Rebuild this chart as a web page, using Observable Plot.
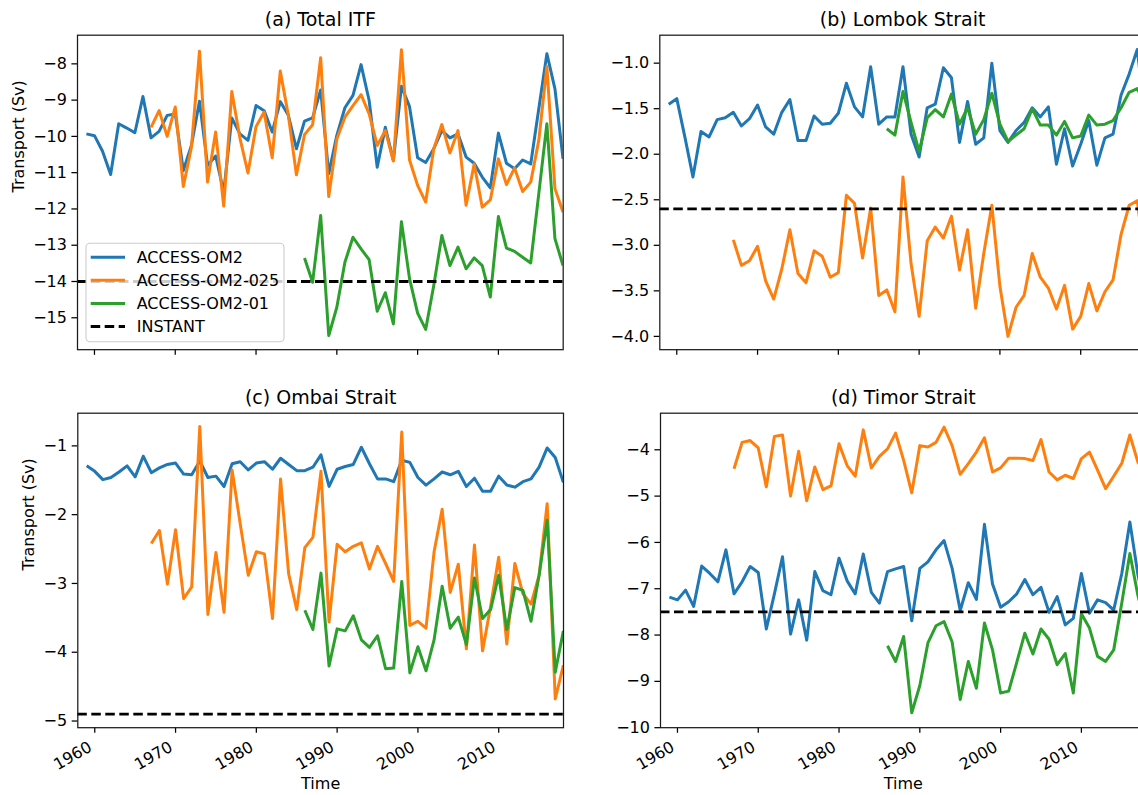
<!DOCTYPE html>
<html>
<head>
<meta charset="utf-8">
<script src="https://cdn.jsdelivr.net/npm/d3@7"></script>
<script src="https://cdn.jsdelivr.net/npm/@observablehq/plot@0.6"></script>
<style>
  html, body { margin: 0; padding: 0; background: #fff; overflow: hidden; }
  #fig { position: relative; width: 1138px; height: 795px; overflow: hidden; background: #fff;
         font-family: "DejaVu Sans", sans-serif; }
  #fig svg { position: absolute; overflow: visible; }
</style>
</head>
<body>
<div id="fig"></div>
<script>
// Annual-mean Indonesian Throughflow transports (Sv) for three model resolutions,
// with the INSTANT observational estimate as a reference line.

const seriesNames = ["ACCESS-OM2", "ACCESS-OM2-025", "ACCESS-OM2-01", "INSTANT"];
const seriesColors = ["#1f77b4", "#ff7f0e", "#2ca02c", "#000000"];
const startOM2 = 1959;   // first year of ACCESS-OM2 (1°)
const start025 = 1967;   // first year of ACCESS-OM2-025
const start01 = 1986;    // first year of ACCESS-OM2-01
const xTickYears = [1960, 1970, 1980, 1990, 2000, 2010];

// (a) Total ITF
const itfOM2 = [
  -9.93, -9.98,
  -10.41, -11.05, -9.65, -9.77, -9.90, -8.90, -10.04, -9.86, -9.42, -9.38,
  -10.94, -10.25, -9.03, -10.80, -10.54, -11.54, -9.49, -9.93, -10.11, -9.15,
  -9.29, -9.88, -9.04, -9.42, -10.34, -9.58, -9.49, -8.72, -11.03, -9.97,
  -9.21, -8.87, -8.02, -9.01, -10.85, -9.75, -10.66, -8.62, -9.18, -10.59,
  -10.72, -10.34, -9.84, -10.04, -9.93, -10.57, -10.74, -11.12, -11.42, -9.91,
  -10.74, -10.89, -10.65, -10.76, -9.24, -7.72, -8.69, -10.62
];
const itf025 = [
  -9.75, -9.29, -10.00, -9.19,
  -11.38, -10.30, -7.65, -11.26, -9.88, -11.92, -8.76, -10.04, -11.01, -9.73,
  -9.33, -10.59, -8.20, -9.42, -11.06, -9.95, -9.68, -7.83, -11.66, -10.07,
  -9.47, -9.15, -8.85, -9.38, -10.25, -9.84, -10.68, -7.61, -10.65, -11.35,
  -11.81, -10.34, -9.67, -10.46, -9.84, -11.90, -10.76, -11.95, -11.75, -10.62,
  -11.33, -10.87, -11.52, -11.26, -10.11, -8.07, -11.44, -12.09
];
const itf01 = [
  -13.35, -14.02, -12.18, -15.49, -14.71,
  -13.47, -12.78, -13.10, -13.40, -14.82, -14.31, -15.17, -12.35, -13.92, -14.87,
  -15.32, -14.11, -12.73, -13.56, -13.05, -13.65, -13.35, -13.56, -14.43, -12.21,
  -13.08, -13.17, -13.33, -13.49, -11.58, -9.65, -12.82, -13.56
];

// (b) Lombok Strait
const lombokOM2 = [
  -1.45, -1.39,
  -1.81, -2.25, -1.75, -1.81, -1.62, -1.60, -1.54, -1.69, -1.61, -1.46,
  -1.70, -1.78, -1.54, -1.40, -1.85, -1.85, -1.58, -1.67, -1.66, -1.55,
  -1.22, -1.48, -1.59, -1.04, -1.67, -1.59, -1.59, -1.04, -1.78, -2.03,
  -1.49, -1.45, -1.05, -1.16, -1.87, -1.42, -1.89, -1.82, -1.00, -1.74,
  -1.87, -1.74, -1.65, -1.49, -1.59, -1.48, -2.11, -1.72, -2.13, -1.89,
  -1.63, -2.12, -1.82, -1.78, -1.35, -1.12, -0.85, -1.60
];
const lombok025 = [
  -2.94, -3.22, -3.17, -3.01,
  -3.39, -3.59, -3.26, -2.83, -3.31, -3.41, -3.06, -3.12, -3.35, -3.30,
  -2.45, -2.54, -3.14, -2.59, -3.55, -3.49, -3.73, -2.25, -3.20, -3.78,
  -2.95, -2.80, -2.92, -2.68, -3.27, -2.83, -3.69, -3.09, -2.56, -3.45,
  -4.00, -3.68, -3.55, -3.09, -3.35, -3.47, -3.70, -3.44, -3.92, -3.78,
  -3.42, -3.72, -3.51, -3.38, -2.88, -2.56, -2.51, -3.20
];
const lombok01 = [
  -1.72, -1.79, -1.31, -1.65, -1.97,
  -1.60, -1.51, -1.59, -1.34, -1.67, -1.49, -1.78, -1.62, -1.33, -1.67,
  -1.86, -1.79, -1.72, -1.50, -1.68, -1.68, -1.79, -1.64, -1.82, -1.80,
  -1.57, -1.68, -1.67, -1.63, -1.49, -1.32, -1.28, -1.45
];

// (c) Ombai Strait
const ombaiOM2 = [
  -1.29, -1.37,
  -1.49, -1.46, -1.38, -1.29, -1.45, -1.15, -1.39, -1.32, -1.27, -1.25,
  -1.41, -1.42, -1.22, -1.46, -1.44, -1.59, -1.26, -1.23, -1.35, -1.25,
  -1.23, -1.34, -1.18, -1.27, -1.36, -1.36, -1.31, -1.13, -1.59, -1.34,
  -1.30, -1.27, -1.02, -1.26, -1.48, -1.48, -1.52, -1.21, -1.24, -1.46,
  -1.57, -1.48, -1.38, -1.42, -1.37, -1.59, -1.47, -1.66, -1.66, -1.44,
  -1.57, -1.60, -1.52, -1.48, -1.31, -1.03, -1.17, -1.53
];
const ombai025 = [
  -2.42, -2.23, -3.01, -2.22,
  -3.22, -3.05, -0.72, -3.45, -2.55, -3.42, -1.35, -2.13, -2.88, -2.54,
  -2.57, -3.51, -1.48, -2.86, -3.38, -2.48, -2.33, -1.37, -3.56, -2.43,
  -2.54, -2.46, -2.41, -2.79, -2.46, -2.71, -2.97, -0.80, -3.61, -3.55,
  -3.65, -2.54, -1.92, -3.13, -2.72, -3.95, -2.44, -3.98, -3.33, -2.62,
  -3.88, -2.71, -3.15, -3.30, -2.88, -1.84, -4.68, -4.19
];
const ombai01 = [
  -3.39, -3.67, -2.85, -4.20, -3.66,
  -3.69, -3.47, -3.82, -3.93, -3.76, -4.24, -4.23, -2.97, -4.30, -3.92,
  -4.27, -3.82, -3.04, -3.65, -3.49, -3.89, -2.92, -3.51, -3.38, -2.88,
  -3.67, -3.06, -3.10, -3.55, -2.88, -2.08, -4.29, -3.69
];

// (d) Timor Strait
const timorOM2 = [
  -7.18, -7.24,
  -7.03, -7.38, -6.51, -6.67, -6.85, -6.16, -7.11, -6.85, -6.52, -6.65,
  -7.87, -7.11, -6.31, -7.98, -7.24, -8.11, -6.63, -7.04, -7.13, -6.34,
  -6.83, -7.11, -6.25, -7.08, -7.31, -6.63, -6.57, -6.52, -7.69, -6.56,
  -6.42, -6.16, -5.96, -6.56, -7.47, -6.87, -7.23, -5.61, -6.90, -7.40,
  -7.28, -7.11, -6.80, -7.13, -6.97, -7.51, -7.17, -7.78, -7.64, -6.67,
  -7.53, -7.24, -7.30, -7.46, -6.67, -5.56, -6.70, -7.50
];
const timor025 = [
  -4.41, -3.84, -3.80, -3.96,
  -4.80, -3.71, -3.68, -5.00, -4.03, -5.10, -4.37, -4.86, -4.78, -3.87,
  -4.34, -4.57, -3.57, -4.39, -4.14, -3.98, -3.64, -4.23, -4.93, -3.91,
  -3.94, -3.84, -3.51, -3.91, -4.53, -4.30, -4.05, -3.74, -4.48, -4.39,
  -4.18, -4.18, -4.19, -4.23, -3.78, -4.48, -4.65, -4.55, -4.62, -4.19,
  -4.05, -4.44, -4.84, -4.57, -4.29, -3.68, -4.27, -4.50
];
const timor01 = [
  -8.23, -8.57, -8.03, -9.68, -9.09,
  -8.17, -7.80, -7.71, -8.15, -9.39, -8.57, -9.15, -7.74, -8.32, -9.25,
  -9.21, -8.59, -7.96, -8.41, -7.87, -8.09, -8.64, -8.40, -9.25, -7.54,
  -7.85, -8.46, -8.57, -8.32, -7.31, -6.24, -7.15, -7.80
];

// INSTANT mean transports (Sv): Total ITF, Lombok, Ombai, Timor
const instantMeans = [-14.0, -2.6, -4.9, -7.5];

const panelTitles = ["(a) Total ITF", "(b) Lombok Strait", "(c) Ombai Strait", "(d) Timor Strait"];
const yTickSets = [
  [-15, -14, -13, -12, -11, -10, -9, -8],
  [-4.0, -3.5, -3.0, -2.5, -2.0, -1.5, -1.0],
  [-5, -4, -3, -2, -1],
  [-10, -9, -8, -7, -6, -5, -4]
];
const yDomains = [[-15.88, -7.21], [-4.146, -0.693], [-5.097, -0.525], [-10.0, -3.21]];
const xLabel = "Time";
const yLabel = "Transport (Sv)";

// ---------------------------------------------------------------------------

const FONT = "DejaVu Sans, sans-serif";
const FS = 16;                      // tick, legend and axis-label size
const TITLE_FS = 19;
const LINE_W = 3.0;
const DASH = "9.5,4.5";
const FRAME_W = 485.7, FRAME_H = 314.5;
const fig = document.getElementById("fig");
const fmtInt = d3.format("");       // d3 formats negatives with a true minus sign
const fmt1 = d3.format(".1f");

function toRows(start, values) {
  return values.map((v, i) => ({year: start + i, value: v}));
}

function panel(opts) {
  const {title, om2, om025, om01, instant, yDomain, yTicks, yFormat,
         bottomRow, showYLabel, yLabelDx, left, top,
         marginLeft, marginTop, marginBottom} = opts;
  const marginRight = 10;
  const lineStyle = {x: "year", y: "value", strokeWidth: LINE_W, clip: true,
                     strokeLinejoin: "round", strokeLinecap: "butt"};
  const marks = [
    Plot.line(toRows(startOM2, om2), {...lineStyle, stroke: seriesColors[0]}),
    Plot.line(toRows(start025, om025), {...lineStyle, stroke: seriesColors[1]}),
    Plot.line(toRows(start01, om01), {...lineStyle, stroke: seriesColors[2]}),
    Plot.ruleY([instant], {stroke: seriesColors[3], strokeWidth: 2.8, strokeDasharray: DASH}),
    Plot.axisY({ticks: yTicks, tickFormat: yFormat, tickSize: 5.6, tickPadding: 5.0,
                strokeWidth: 1.25, label: null, fontSize: FS})
  ];
  if (bottomRow) {
    // year labels rotated 30°, right-aligned under their ticks
    marks.push(Plot.axisX({ticks: xTickYears, tickSize: 5.6, strokeWidth: 1.25, label: null,
                           tickFormat: () => ""}));
    marks.push(Plot.axisX({ticks: xTickYears, tickFormat: d => String(d), tickSize: 0,
                           tickPadding: 12.5, tickRotate: -30, textAnchor: "end",
                           lineAnchor: "top", dx: -7.5, label: null, fontSize: FS}));
  } else {
    marks.push(Plot.axisX({ticks: xTickYears, tickFormat: () => "", tickSize: 5.6,
                           strokeWidth: 1.25, label: null}));
  }
  marks.push(
    Plot.frame({stroke: "#1a1a1a", strokeWidth: 1.25}),
    Plot.text([title], {text: d => d, frameAnchor: "top", dy: -9.5, lineAnchor: "bottom",
                        fontSize: TITLE_FS})
  );
  if (bottomRow) {
    marks.push(Plot.text([xLabel], {text: d => d, frameAnchor: "bottom", dy: 61, fontSize: FS}));
  }
  if (showYLabel) {
    marks.push(Plot.text([yLabel], {text: d => d, frameAnchor: "left", rotate: -90,
                                    dx: yLabelDx, fontSize: FS}));
  }
  const svg = Plot.plot({
    width: marginLeft + FRAME_W + marginRight,
    height: marginTop + FRAME_H + marginBottom,
    marginLeft, marginRight, marginTop, marginBottom,
    x: {domain: [1957.9, 2018.02], label: null},
    y: {domain: yDomain, label: null},
    style: {fontFamily: FONT, fontSize: FS + "px", color: "black", background: "transparent",
            overflow: "visible"},
    marks
  });
  svg.style.position = "absolute";
  svg.style.left = left + "px";
  svg.style.top = top + "px";
  svg.style.maxWidth = "none";
  fig.appendChild(svg);
}

panel({title: panelTitles[0], om2: itfOM2, om025: itf025, om01: itf01, instant: instantMeans[0],
       yDomain: yDomains[0], yTicks: yTickSets[0], yFormat: fmtInt,
       bottomRow: false, showYLabel: true, yLabelDx: -59,
       left: 0, top: 0, marginLeft: 77, marginTop: 34.7, marginBottom: 20});
panel({title: panelTitles[1], om2: lombokOM2, om025: lombok025, om01: lombok01, instant: instantMeans[1],
       yDomain: yDomains[1], yTicks: yTickSets[1], yFormat: fmt1,
       bottomRow: false, showYLabel: false,
       left: 590, top: 0, marginLeft: 69.3, marginTop: 34.7, marginBottom: 20});
panel({title: panelTitles[2], om2: ombaiOM2, om025: ombai025, om01: ombai01, instant: instantMeans[2],
       yDomain: yDomains[2], yTicks: yTickSets[2], yFormat: fmtInt,
       bottomRow: true, showYLabel: true, yLabelDx: -49,
       left: 0, top: 380, marginLeft: 77.3, marginTop: 32.7, marginBottom: 67.8});
panel({title: panelTitles[3], om2: timorOM2, om025: timor025, om01: timor01, instant: instantMeans[3],
       yDomain: yDomains[3], yTicks: yTickSets[3], yFormat: fmtInt,
       bottomRow: true, showYLabel: false,
       left: 590, top: 380, marginLeft: 70, marginTop: 32.7, marginBottom: 67.8});

// Legend box inside panel (a), lower-left corner
const legend = d3.select(fig).append("svg")
  .attr("width", 1138).attr("height", 795)
  .style("left", "0px").style("top", "0px").style("pointer-events", "none");
legend.append("rect")
  .attr("x", 86).attr("y", 243.3).attr("width", 198).attr("height", 98.4)
  .attr("rx", 4).attr("fill", "white").attr("fill-opacity", 0.8)
  .attr("stroke", "#cccccc").attr("stroke-width", 1.1);
const rowY = [257.2, 280.3, 303.4, 326.5];
seriesNames.forEach((name, i) => {
  legend.append("line")
    .attr("x1", 90.7).attr("x2", 125).attr("y1", rowY[i]).attr("y2", rowY[i])
    .attr("stroke", seriesColors[i]).attr("stroke-width", i === 3 ? 2.8 : LINE_W)
    .attr("stroke-dasharray", i === 3 ? DASH : null);
  legend.append("text")
    .attr("x", 136.7).attr("y", rowY[i]).attr("dy", "0.35em")
    .attr("font-family", FONT).attr("font-size", FS).attr("fill", "black")
    .text(name);
});
</script>
</body>
</html>
